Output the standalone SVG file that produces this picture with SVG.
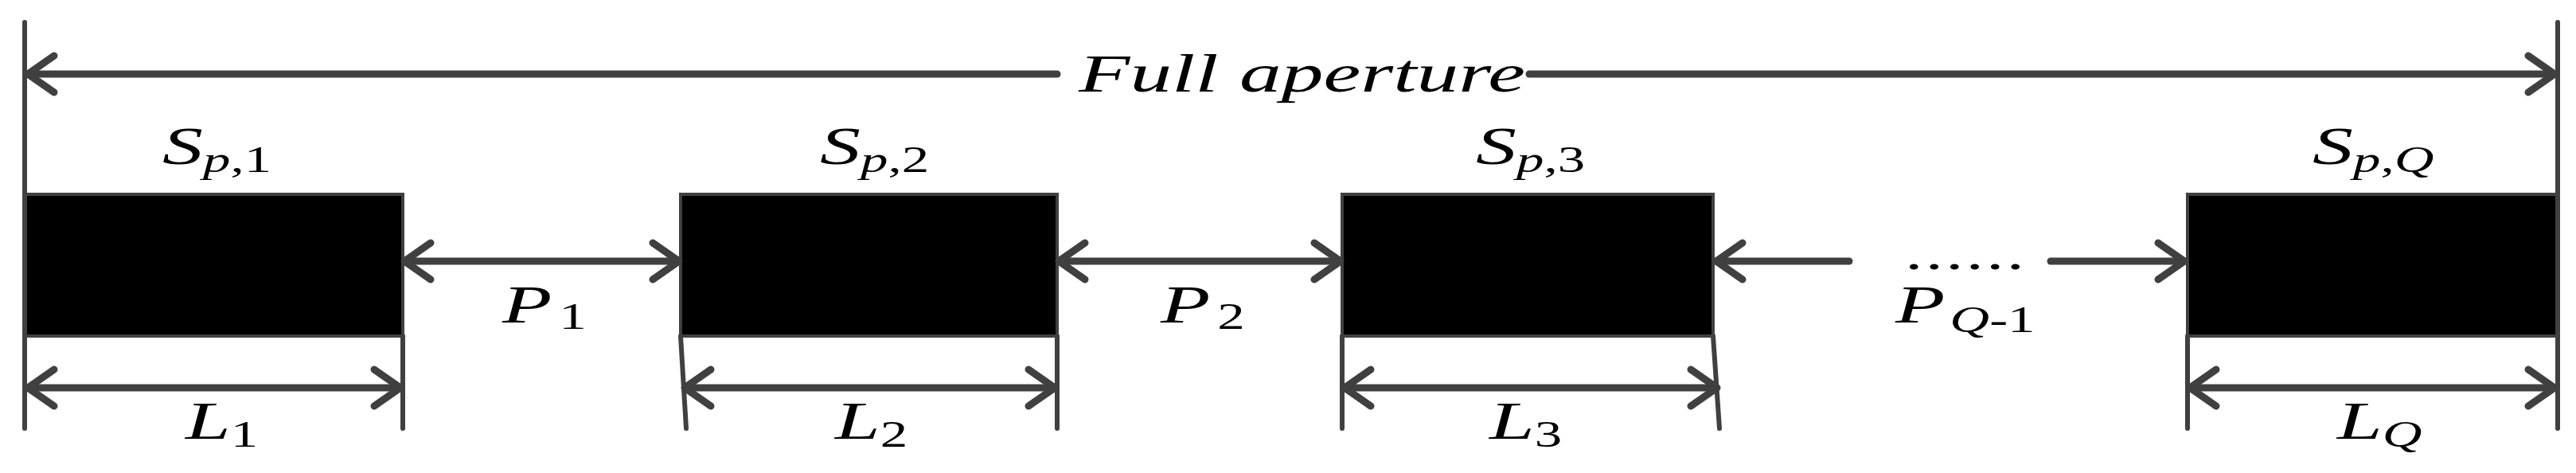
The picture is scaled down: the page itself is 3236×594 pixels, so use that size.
<svg xmlns="http://www.w3.org/2000/svg" width="3236" height="594" viewBox="0 0 3236 594">
<style>
.ln{stroke:#404040;stroke-width:9;fill:none;stroke-linecap:round}
.ext{stroke:#404040;stroke-width:6;fill:none;stroke-linecap:round}
.dim{stroke:#404040;stroke-width:9;fill:none;marker-start:url(#ch);marker-end:url(#ch)}
.box{fill:#000;stroke:#404040;stroke-width:4}
text{font-family:"Liberation Serif","Times New Roman",serif;fill:#000}
.m{font-size:68px;font-style:italic}
.s{font-size:46px}
.i{font-style:italic}
</style>
<defs>
<marker id="ch" markerUnits="userSpaceOnUse" viewBox="-40 -30 46 60" refX="0" refY="0" markerWidth="46" markerHeight="60" orient="auto-start-reverse">
<path d="M-33,-23 L0,0 L-33,23" stroke="#404040" stroke-width="9" fill="none" stroke-linecap="round" stroke-linejoin="round"/>
</marker>
</defs>
<g id="box1"><rect class="box" x="31" y="244" width="475" height="178"/></g>
<g id="box2"><rect class="box" x="855" y="244" width="473" height="178"/></g>
<g id="box3"><rect class="box" x="1686" y="244" width="466" height="178"/></g>
<g id="boxQ"><rect class="box" x="2748" y="244" width="465" height="178"/></g>
<g id="connectors">
<line class="ext" x1="31" y1="28" x2="31" y2="538"/>
<line class="ext" x1="3213" y1="28" x2="3213" y2="538"/>
<line class="ext" x1="506" y1="422" x2="506" y2="538"/>
<line class="ext" x1="855" y1="422" x2="862" y2="538"/>
<line class="ext" x1="1328" y1="422" x2="1328" y2="538"/>
<line class="ext" x1="1686" y1="422" x2="1686" y2="538"/>
<line class="ext" x1="2152" y1="422" x2="2160" y2="538"/>
<line class="ext" x1="2748" y1="422" x2="2748" y2="538"/>
<path class="ln" d="M1328,93 H35" style="marker-end:url(#ch)"/>
<path class="ln" d="M1921,93 H3209" style="marker-end:url(#ch)"/>
<line class="dim" x1="508" y1="328" x2="853" y2="328"/>
<line class="dim" x1="1330" y1="328" x2="1684" y2="328"/>
<path class="ln" d="M2323,328 H2156" style="marker-end:url(#ch)"/>
<path class="ln" d="M2576,328 H2744" style="marker-end:url(#ch)"/>
<line class="dim" x1="35" y1="487" x2="503" y2="487"/>
<line class="dim" x1="860" y1="487" x2="1325" y2="487"/>
<line class="dim" x1="1689" y1="487" x2="2157" y2="487"/>
<line class="dim" x1="2751" y1="487" x2="3209" y2="487"/>
</g>
<g id="labels">
<text class="m" transform="translate(1355,115) scale(1.55,1)">Full aperture</text>
<text transform="translate(2393,338) scale(1.5,1)" style="font-size:60px;letter-spacing:2px">......</text>
<text class="m" transform="translate(204,206) scale(1.5,1)">S<tspan class="s" dy="10">p</tspan><tspan class="s" font-style="normal">,1</tspan></text>
<text class="m" transform="translate(1030,206) scale(1.5,1)">S<tspan class="s" dy="10">p</tspan><tspan class="s" font-style="normal">,2</tspan></text>
<text class="m" transform="translate(1854,206) scale(1.5,1)">S<tspan class="s" dy="10">p</tspan><tspan class="s" font-style="normal">,3</tspan></text>
<text class="m" transform="translate(2905,206) scale(1.5,1)">S<tspan class="s" dy="10">p</tspan><tspan class="s" font-style="normal">,</tspan><tspan class="s">Q</tspan></text>
<text class="m" transform="translate(631,405) scale(1.5,1)">P<tspan class="s" font-style="normal" dx="6" dy="8">1</tspan></text>
<text class="m" transform="translate(1458,405) scale(1.5,1)">P<tspan class="s" font-style="normal" dx="6" dy="8">2</tspan></text>
<text class="m" transform="translate(2381,405) scale(1.5,1)">P<tspan class="s" dx="4" dy="12">Q</tspan><tspan class="s" font-style="normal">-1</tspan></text>
<text class="m" transform="translate(233,551) scale(1.5,1)">L<tspan class="s" font-style="normal" dy="10">1</tspan></text>
<text class="m" transform="translate(1049,551) scale(1.5,1)">L<tspan class="s" font-style="normal" dy="10">2</tspan></text>
<text class="m" transform="translate(1871,551) scale(1.5,1)">L<tspan class="s" font-style="normal" dy="10">3</tspan></text>
<text class="m" transform="translate(2936,551) scale(1.5,1)">L<tspan class="s" dy="10">Q</tspan></text>
</g>
</svg>
